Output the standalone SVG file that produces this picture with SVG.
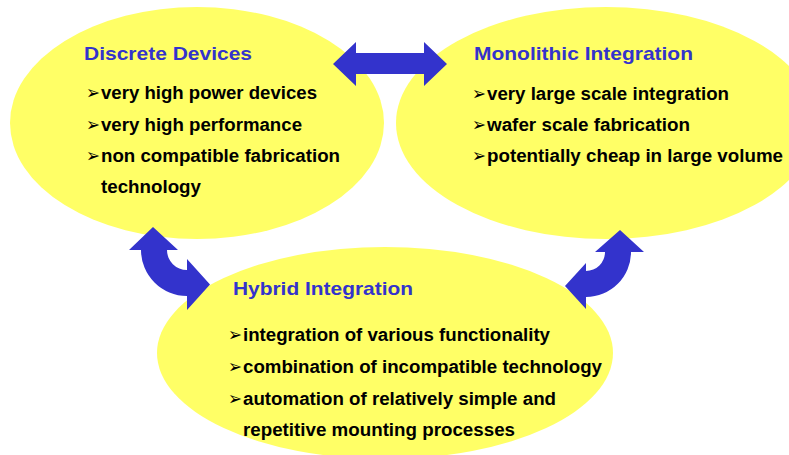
<svg xmlns="http://www.w3.org/2000/svg" width="789" height="455" viewBox="0 0 789 455">
<style>
.node{fill:#FFFF66}
.title{font-family:"Liberation Sans",Arial,sans-serif;font-weight:bold;font-size:19px;fill:#3333CC}
.item{font-family:"Liberation Sans",Arial,sans-serif;font-weight:bold;font-size:17.5px;fill:#000}
.bul{font-family:"DejaVu Sans",sans-serif;font-weight:bold;font-size:19px;fill:#000}
.arrow{fill:#3333CC}
</style>
<rect width="789" height="455" fill="#fff"/>
<g id="discrete">
<ellipse class="node" cx="197" cy="123" rx="187" ry="116"/>
<text class="title" x="84" y="60" textLength="168" lengthAdjust="spacingAndGlyphs">Discrete Devices</text>
<text class="bul" x="86" y="99" textLength="14" lengthAdjust="spacingAndGlyphs">➢</text>
<text class="item" x="101" y="99" textLength="216" lengthAdjust="spacingAndGlyphs">very high power devices</text>
<text class="bul" x="86" y="131" textLength="14" lengthAdjust="spacingAndGlyphs">➢</text>
<text class="item" x="101" y="131" textLength="201" lengthAdjust="spacingAndGlyphs">very high performance</text>
<text class="bul" x="86" y="162" textLength="14" lengthAdjust="spacingAndGlyphs">➢</text>
<text class="item" x="101" y="162" textLength="239" lengthAdjust="spacingAndGlyphs">non compatible fabrication</text>
<text class="item" x="101" y="193" textLength="100" lengthAdjust="spacingAndGlyphs">technology</text>
</g>
<g id="monolithic">
<ellipse class="node" cx="606" cy="123" rx="210" ry="116"/>
<text class="title" x="474" y="60" textLength="219" lengthAdjust="spacingAndGlyphs">Monolithic Integration</text>
<text class="bul" x="472" y="100" textLength="14" lengthAdjust="spacingAndGlyphs">➢</text>
<text class="item" x="487" y="100" textLength="242" lengthAdjust="spacingAndGlyphs">very large scale integration</text>
<text class="bul" x="472" y="131" textLength="14" lengthAdjust="spacingAndGlyphs">➢</text>
<text class="item" x="487" y="131" textLength="203" lengthAdjust="spacingAndGlyphs">wafer scale fabrication</text>
<text class="bul" x="472" y="162" textLength="14" lengthAdjust="spacingAndGlyphs">➢</text>
<text class="item" x="487" y="162" textLength="296" lengthAdjust="spacingAndGlyphs">potentially cheap in large volume</text>
</g>
<g id="hybrid">
<ellipse class="node" cx="385" cy="353" rx="228" ry="106"/>
<text class="title" x="233" y="295" textLength="180" lengthAdjust="spacingAndGlyphs">Hybrid Integration</text>
<text class="bul" x="228" y="341" textLength="14" lengthAdjust="spacingAndGlyphs">➢</text>
<text class="item" x="243" y="341" textLength="307" lengthAdjust="spacingAndGlyphs">integration of various functionality</text>
<text class="bul" x="228" y="373" textLength="14" lengthAdjust="spacingAndGlyphs">➢</text>
<text class="item" x="243" y="373" textLength="359" lengthAdjust="spacingAndGlyphs">combination of incompatible technology</text>
<text class="bul" x="228" y="405" textLength="14" lengthAdjust="spacingAndGlyphs">➢</text>
<text class="item" x="243" y="405" textLength="313" lengthAdjust="spacingAndGlyphs">automation of relatively simple and</text>
<text class="item" x="243" y="436" textLength="272" lengthAdjust="spacingAndGlyphs">repetitive mounting processes</text>
</g>
<g id="connectors">
<polygon class="arrow" points="333,64 356,42 356,53 424,53 424,42 447,64 424,86 424,74 356,74 356,86"/>
<path class="arrow" d="M153,227 L178,250 L167,250 A20 20 0 0 0 187,270 L187,259 L210,284.5 L187,310 L187,296 A46 46 0 0 1 141,250 L129,250 Z"/>
<path class="arrow" d="M620,230 L644,252 L631,252 A45 45 0 0 1 586,297 L586,309 L565,286 L586,263 L586,271 A19 19 0 0 0 605,252 L595,252 Z"/>
</g>
</svg>
